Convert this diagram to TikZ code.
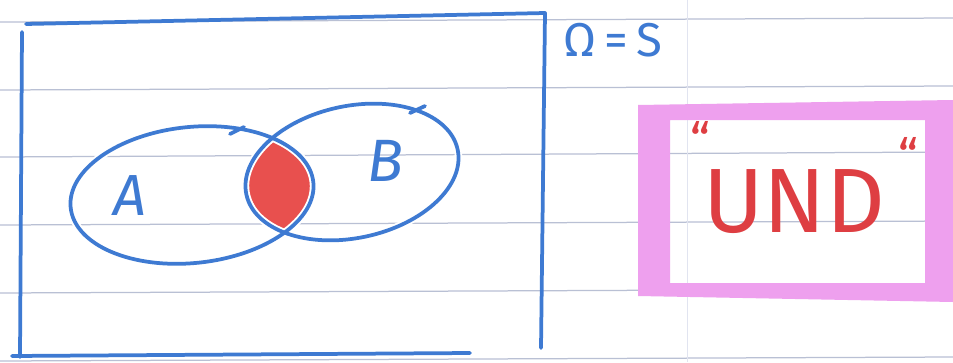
\documentclass[tikz,border=0pt]{standalone}
\usepackage{fontspec}
\setmainfont{Fira Sans}
\definecolor{bluepen}{RGB}{62,122,210}
\definecolor{paperline}{RGB}{185,192,212}
\definecolor{marginline}{RGB}{225,228,240}
\definecolor{lensred}{RGB}{232,80,78}
\definecolor{pinkhl}{RGB}{238,160,238}
\definecolor{redpen}{RGB}{222,62,66}
\tikzset{
  pen/.style={draw=bluepen, line width=0.075cm, line cap=round, line join=round},
  ruled/.style={draw=paperline, line width=0.025cm},
  handlabel/.style={text=bluepen, inner sep=0pt},
  redlabel/.style={text=redpen, inner sep=0pt}
}
\begin{document}
\begin{tikzpicture}[x=0.02cm,y=-0.02cm]
\useasboundingbox (0,0) rectangle (953,362);
\fill[white] (0,0) rectangle (953,362);
% ruled paper
\foreach \yl/\yr in {22/18, 90/86, 157/152, 225/221, 293/289, 361/357}{
  \draw[ruled] (0,\yl) -- (953,\yr);
}
\draw[marginline, line width=0.02cm] (687,0) -- (687,362);
% sample space rectangle
\draw[pen] (22,32) -- (20,357);
\draw[pen] (26,24) -- (545,13) -- (541,348);
\draw[pen] (12,356) -- (470,353);
% intersection fill
\begin{scope}
  \clip[rotate around={6:(192,195)}] (192,195) ellipse (122 and 68);
  \fill[lensred, rotate around={12:(352,172)}] (352,172) ellipse (108 and 66);
\end{scope}
% white halo then ellipses
\draw[white, line width=0.15cm, rotate around={6:(192,195)}] (192,195) ellipse (122 and 68);
\draw[white, line width=0.15cm, rotate around={12:(352,172)}] (352,172) ellipse (108 and 66);
\draw[pen, rotate around={6:(192,195)}] (192,195) ellipse (122 and 68);
\draw[pen, rotate around={12:(352,172)}] (352,172) ellipse (108 and 66);
% little pen hooks where the ellipses were closed
\draw[pen] (244,127) -- (230,134);
\draw[pen] (425,106) -- (410,113);
% labels
\node[handlabel, font=\fontsize{33}{36}\selectfont\itshape] (la) at (130,196) {A};
\node[handlabel, font=\fontsize{34}{36}\selectfont\itshape] (lb) at (385,161) {B};
\node[handlabel, font=\fontsize{27}{30}\selectfont] (omega) at (613,40) {Ω\,=\,S};
% pink highlighted box
\fill[pinkhl, even odd rule] (638,105) -- (953,100) -- (953,302) -- (638,296) -- cycle
  (670,120) rectangle (925,283);
\node[redlabel, font=\fontsize{52}{56}\selectfont] (und) at (794,202) {UND};
\node[redlabel, font=\fontsize{28}{30}\selectfont] (ql) at (700,140) {“};
\node[redlabel, font=\fontsize{28}{30}\selectfont] (qr) at (908,156) {“};
\end{tikzpicture}
\end{document}
